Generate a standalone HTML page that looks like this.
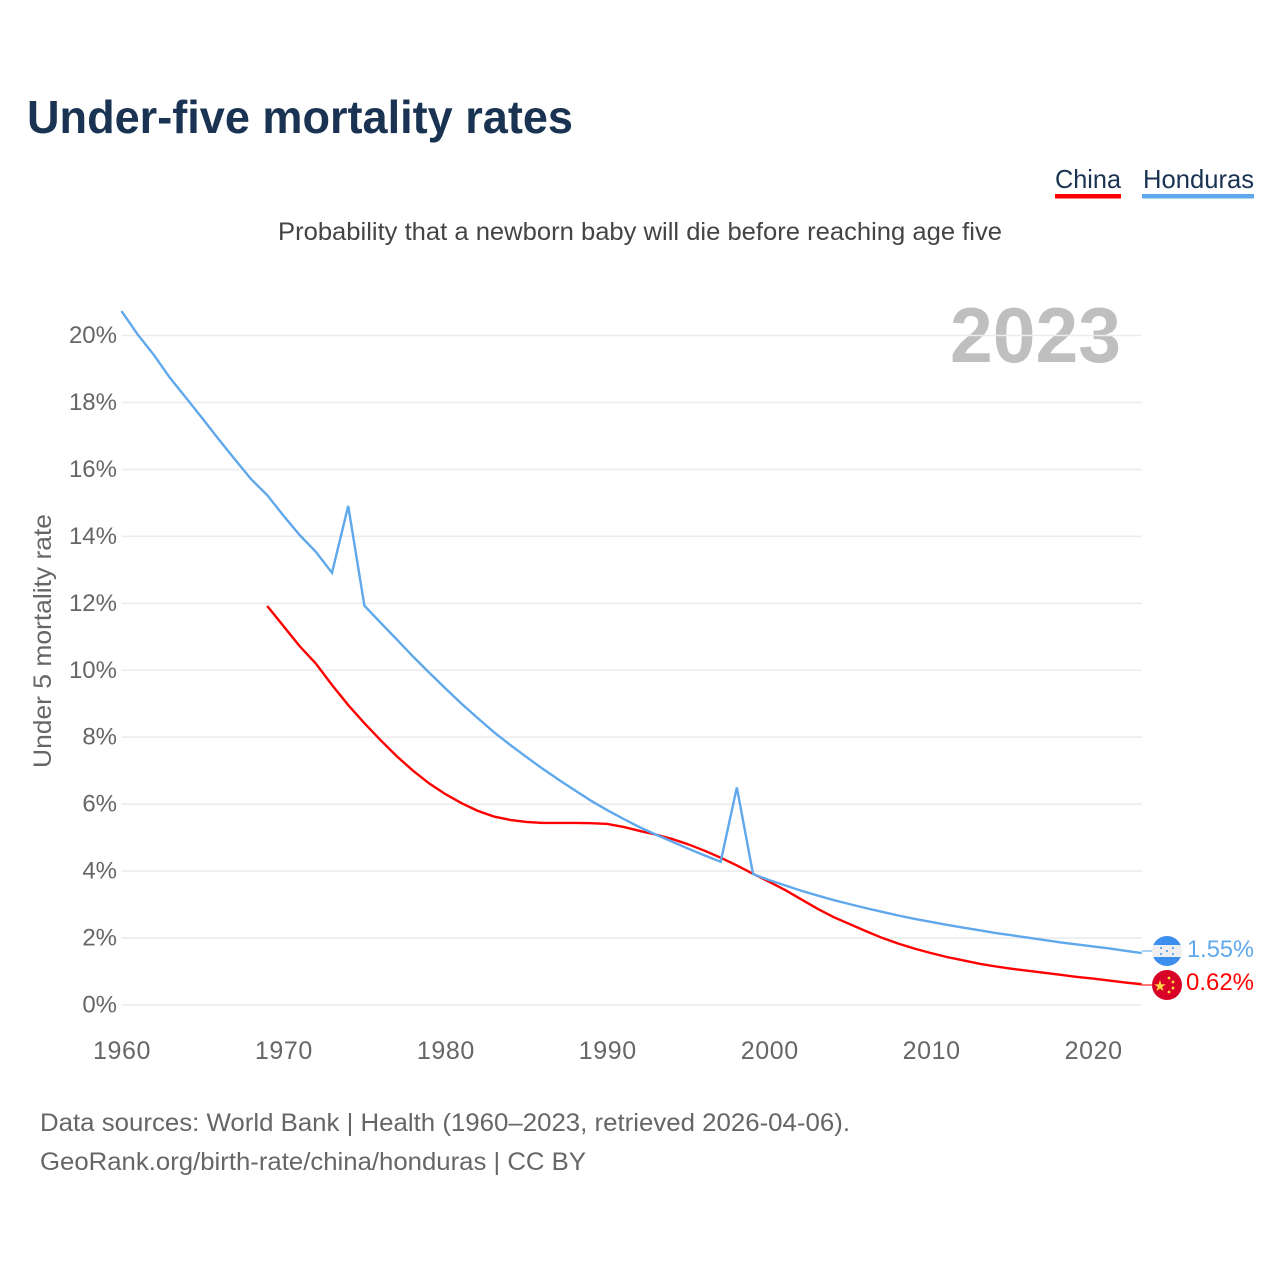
<!DOCTYPE html>
<html lang="en">
<head>
<meta charset="utf-8">
<title>Under-five mortality rates</title>
<style>
html,body{margin:0;padding:0;background:#fff;width:1280px;height:1280px;overflow:hidden}
svg{display:block}
text{font-family:"Liberation Sans",sans-serif}
</style>
</head>
<body>
<svg id="chart" xmlns="http://www.w3.org/2000/svg" width="1280" height="1280" viewBox="0 0 1280 1280">
  <defs>
    <clipPath id="clip-hn"><circle cx="1167" cy="951" r="15"/></clipPath>
    <clipPath id="clip-cn"><circle cx="1167" cy="985" r="15"/></clipPath>
  </defs>
  <rect width="1280" height="1280" fill="#fff"/>
  <text x="27" y="133" font-size="46" font-weight="700" fill="#1a3352" textLength="546" lengthAdjust="spacingAndGlyphs">Under-five mortality rates</text>

  <g>
    <g>
      <text x="1055" y="188" font-size="26" fill="#1a3352" textLength="66" lengthAdjust="spacingAndGlyphs">China</text>
      <rect x="1055" y="194" width="66" height="4.5" fill="#ff0000"/>
    </g>
    <g>
      <text x="1143" y="188" font-size="26" fill="#1a3352" textLength="111" lengthAdjust="spacingAndGlyphs">Honduras</text>
      <rect x="1142" y="194" width="112" height="4.5" fill="#5fa8ec"/>
    </g>
  </g>

  <text x="278" y="240" font-size="25" fill="#444" textLength="724" lengthAdjust="spacingAndGlyphs">Probability that a newborn baby will die before reaching age five</text>
  <text x="950" y="362" font-size="78" font-weight="700" fill="#bfbfbf" textLength="171" lengthAdjust="spacingAndGlyphs">2023</text>
  <text transform="translate(51,768) rotate(-90)" font-size="25" fill="#666" textLength="254" lengthAdjust="spacingAndGlyphs">Under 5 mortality rate</text>

  <g id="grid"></g>
  <g id="yticks"></g>
  <g id="xticks"></g>
  <g id="series"></g>

  <g clip-path="url(#clip-hn)">
    <rect x="1152" y="936" width="30" height="30" fill="#eeeeee"/>
    <rect x="1152" y="936" width="30" height="9" fill="#3d8fee"/>
    <rect x="1152" y="957" width="30" height="9" fill="#3d8fee"/>
    <circle cx="1161" cy="948" r="1" fill="#3d8fee"/>
    <circle cx="1173" cy="948" r="1" fill="#3d8fee"/>
    <circle cx="1167" cy="951" r="1" fill="#3d8fee"/>
    <circle cx="1161" cy="954" r="1" fill="#3d8fee"/>
    <circle cx="1173" cy="954" r="1" fill="#3d8fee"/>
  </g>
  <g clip-path="url(#clip-cn)">
    <rect x="1152" y="970" width="30" height="30" fill="#d80027"/>
    <text x="1160" y="991" font-size="15" fill="#ffda44" text-anchor="middle" style="font-family:'DejaVu Sans',sans-serif">★</text>
    <circle cx="1169" cy="978" r="1.4" fill="#ffda44"/>
    <circle cx="1173" cy="982" r="1.4" fill="#ffda44"/>
    <circle cx="1173" cy="988" r="1.4" fill="#ffda44"/>
    <circle cx="1169" cy="992" r="1.4" fill="#ffda44"/>
  </g>
  <text id="label-hn" x="1187" y="957" font-size="24" fill="#5fa8ec" textLength="67" lengthAdjust="spacingAndGlyphs">1.55%</text>
  <text id="label-cn" x="1186" y="990" font-size="24" fill="#ff0000" textLength="68" lengthAdjust="spacingAndGlyphs">0.62%</text>

  <text x="40" y="1131" font-size="25" fill="#666" textLength="810" lengthAdjust="spacingAndGlyphs">Data sources: World Bank | Health (1960–2023, retrieved 2026-04-06).</text>
  <text x="40" y="1170" font-size="25" fill="#666" textLength="546" lengthAdjust="spacingAndGlyphs">GeoRank.org/birth-rate/china/honduras | CC BY</text>
</svg>
<script>
const firstYear = 1960;
const lastYear = 2023;
const xTickYears = [1960, 1970, 1980, 1990, 2000, 2010, 2020];
const yTickValues = [0, 2, 4, 6, 8, 10, 12, 14, 16, 18, 20];
const hondurasValues = [
  20.73, 20.03, 19.42, 18.73, 18.13, 17.52, 16.9, 16.3, 15.71, 15.23,
  14.62, 14.04, 13.54, 12.91, 14.91, 11.93, 11.42, 10.92, 10.41, 9.93,
  9.46, 9.0, 8.57, 8.15, 7.77, 7.41, 7.06, 6.73, 6.41, 6.1,
  5.82, 5.56, 5.31, 5.09, 4.88, 4.67, 4.47, 4.28, 6.5, 3.91,
  3.73, 3.57, 3.41, 3.27, 3.13, 3.01, 2.89, 2.78, 2.67, 2.57,
  2.48, 2.39, 2.31, 2.23, 2.15, 2.08, 2.01, 1.94, 1.87, 1.81,
  1.75, 1.69, 1.62, 1.55
];
const chinaValues = [
  null, null, null, null, null, null, null, null, null, 11.92,
  11.32, 10.72, 10.2, 9.56, 8.96, 8.42, 7.91, 7.43, 7.0, 6.62,
  6.3, 6.03, 5.8, 5.63, 5.53, 5.47, 5.44, 5.44, 5.44, 5.43,
  5.41, 5.32, 5.2, 5.09, 4.96, 4.8, 4.61, 4.4, 4.17, 3.92,
  3.68, 3.43, 3.15, 2.87, 2.62, 2.41, 2.2, 2.0, 1.83, 1.68,
  1.55, 1.43, 1.33, 1.23, 1.15, 1.08, 1.02, 0.96, 0.9, 0.84,
  0.79, 0.73, 0.67, 0.62
];

const SVG_NS = 'http://www.w3.org/2000/svg';
function xScale(year) {
  return 121.5 + (year - firstYear) * (1141.7 - 121.5) / (lastYear - firstYear);
}
function yScale(value) {
  return 1005 - value * 33.475;
}
function make(tag, parent, attrs) {
  const el = document.createElementNS(SVG_NS, tag);
  for (const key in attrs) el.setAttribute(key, attrs[key]);
  parent.appendChild(el);
  return el;
}

const grid = document.getElementById('grid');
const yticks = document.getElementById('yticks');
const xticks = document.getElementById('xticks');
const series = document.getElementById('series');

yTickValues.forEach(function (value) {
  const line = make('line', grid, { x1: 121.5, x2: 1141.7, y1: yScale(value), y2: yScale(value), stroke: '#ececec', 'stroke-width': 1.6 });
  
  
  const label = make('text', yticks, { x: 117, y: yScale(value) + 7.5, 'font-size': 24, fill: '#666', 'text-anchor': 'end' });
  
  
  label.textContent = value + '%';
});

xTickYears.forEach(function (year) {
  const label = make('text', xticks, { x: xScale(year) + 0.5, y: 1059, 'font-size': 25, 'letter-spacing': 0.6, fill: '#666', 'text-anchor': 'middle' });
  
  
  label.textContent = year;
});

function drawSeries(values, color) {
  const pts = [];
  values.forEach(function (value, i) {
    if (value !== null) pts.push(xScale(firstYear + i).toFixed(2) + ',' + yScale(value).toFixed(2));
  });
  return make('polyline', series, { points: pts.join(' '), fill: 'none', stroke: color, 'stroke-width': 2.4, 'stroke-linejoin': 'miter' });
}
function drawConnector(color, flagY) {
  return make('line', series, { x1: xScale(lastYear), y1: flagY, x2: 1152, y2: flagY, stroke: color, 'stroke-width': 1.4, opacity: 0.75 });
}

const chinaLine = drawSeries(chinaValues, '#ff0000');


const hondurasLine = drawSeries(hondurasValues, '#5fa8ec');



const hondurasConnector = drawConnector('#5fa8ec', 951);


const chinaConnector = drawConnector('#ff0000', 985);



document.getElementById('label-hn').textContent = hondurasValues[hondurasValues.length - 1].toFixed(2) + '%';
document.getElementById('label-cn').textContent = chinaValues[chinaValues.length - 1].toFixed(2) + '%';
</script>
</body>
</html>
